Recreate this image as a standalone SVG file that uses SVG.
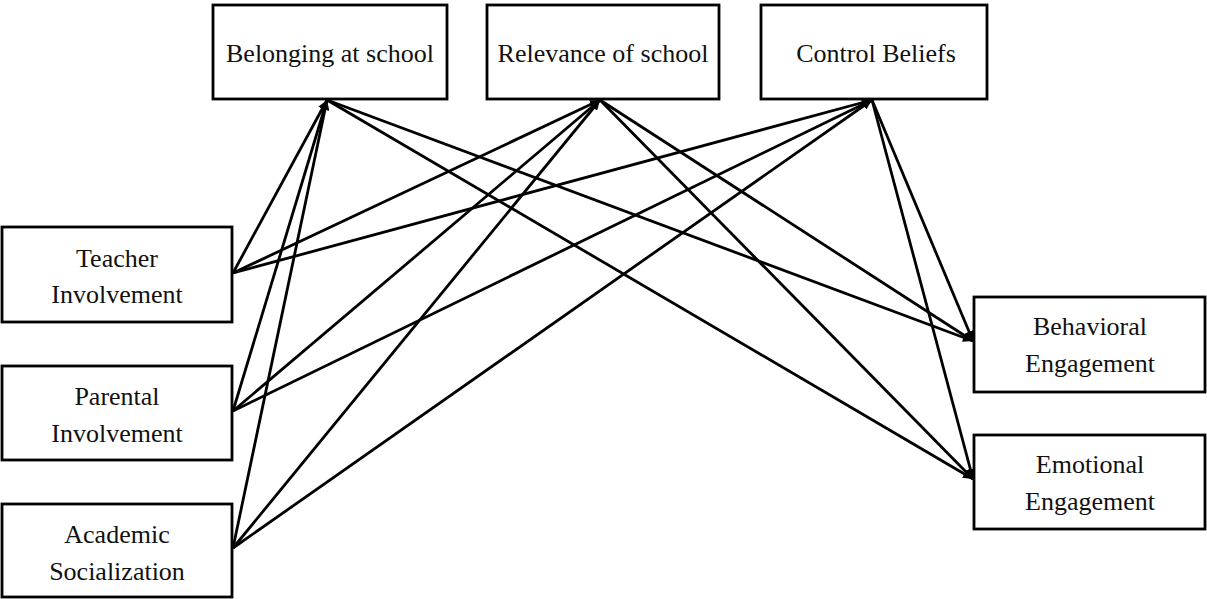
<svg xmlns="http://www.w3.org/2000/svg" width="1207" height="599" viewBox="0 0 1207 599">
<style>
.box{fill:#fff;stroke:#000;stroke-width:2.8}
.lbl{font-family:"Liberation Serif","Times New Roman",serif;font-size:26px;fill:#111;text-anchor:middle}
.ln{stroke:#000;stroke-width:2.8;fill:none;marker-end:url(#ah)}
</style>
<defs>
<marker id="ah" markerUnits="userSpaceOnUse" markerWidth="11" markerHeight="9" refX="10" refY="4.5" orient="auto">
<path d="M0,0 L10,4.5 L0,9 z" fill="#000"/>
</marker>
</defs>
<rect width="1207" height="599" fill="#fff"/>
<g id="connectors">
<line class="ln" x1="233" y1="273" x2="327" y2="100"/>
<line class="ln" x1="233" y1="273" x2="600" y2="100"/>
<line class="ln" x1="233" y1="273" x2="872" y2="100"/>
<line class="ln" x1="233" y1="411" x2="327" y2="100"/>
<line class="ln" x1="233" y1="411" x2="600" y2="100"/>
<line class="ln" x1="233" y1="411" x2="872" y2="100"/>
<line class="ln" x1="233" y1="548" x2="327" y2="100"/>
<line class="ln" x1="233" y1="548" x2="600" y2="100"/>
<line class="ln" x1="233" y1="548" x2="872" y2="100"/>
<line class="ln" x1="327" y1="100" x2="973" y2="341"/>
<line class="ln" x1="327" y1="100" x2="973" y2="479"/>
<line class="ln" x1="600" y1="100" x2="973" y2="341"/>
<line class="ln" x1="600" y1="100" x2="973" y2="479"/>
<line class="ln" x1="872" y1="100" x2="973" y2="341"/>
<line class="ln" x1="872" y1="100" x2="973" y2="479"/>
</g>
<g id="belonging"><rect class="box" x="213" y="5" width="234" height="94"/><text class="lbl" x="330" y="62">Belonging at school</text></g>
<g id="relevance"><rect class="box" x="487" y="5" width="232" height="94"/><text class="lbl" x="603" y="62">Relevance of school</text></g>
<g id="control"><rect class="box" x="761" y="5" width="226" height="94"/><text class="lbl" x="876" y="62">Control Beliefs</text></g>
<g id="teacher"><rect class="box" x="2" y="227" width="230" height="95"/><text class="lbl" x="117" y="267">Teacher</text><text class="lbl" x="117" y="303">Involvement</text></g>
<g id="parental"><rect class="box" x="2" y="366" width="230" height="94"/><text class="lbl" x="117" y="405">Parental</text><text class="lbl" x="117" y="442">Involvement</text></g>
<g id="academic"><rect class="box" x="2" y="504" width="230" height="93"/><text class="lbl" x="117" y="543">Academic</text><text class="lbl" x="117" y="580">Socialization</text></g>
<g id="behavioral"><rect class="box" x="974" y="297" width="231" height="95"/><text class="lbl" x="1090" y="335">Behavioral</text><text class="lbl" x="1090" y="372">Engagement</text></g>
<g id="emotional"><rect class="box" x="974" y="435" width="231" height="94"/><text class="lbl" x="1090" y="473">Emotional</text><text class="lbl" x="1090" y="510">Engagement</text></g>
</svg>
